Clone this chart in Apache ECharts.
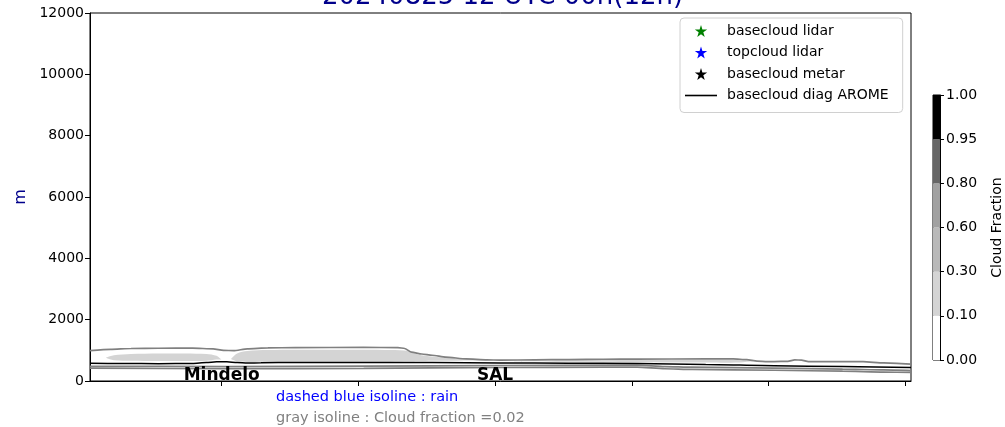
<!DOCTYPE html>
<html>
<head>
<meta charset="utf-8">
<script src="https://cdn.jsdelivr.net/npm/echarts@6/dist/echarts.min.js"></script>
<style>
    html, body { margin: 0; padding: 0; background: #fff; }
    #main { width: 1005px; height: 427px; }
</style>
</head>
<body>
<div id="main"></div>
<script>
    // x is the point index along the track, y is height in metres
    var yTicks = [0, 2000, 4000, 6000, 8000, 10000, 12000];
    var xTickPos = [19.25, 39.23, 59.2, 79.2, 99.2, 119.1];
    var stationNames = ['Mindelo', 'SAL'];
    var stationX = [19.25, 59.2];

    // cloud fraction = 0.02 isolines (top of the layer, and the thin layer underneath)
    var cfTopX = [0, 3, 6, 10, 15, 18, 19.5, 21, 23, 26, 30, 40, 45, 46, 47, 48.5, 50, 52, 55, 58, 60, 65, 70, 75, 80, 90, 94, 96, 97.5, 99, 101, 102, 103, 104, 105, 110, 113, 116, 120];
    var cfTop = [990, 1030, 1060, 1068, 1070, 1050, 1000, 990, 1050, 1080, 1090, 1095, 1090, 1060, 940, 880, 840, 780, 720, 690, 680, 690, 700, 710, 715, 720, 720, 700, 650, 630, 640, 640, 690, 680, 630, 630, 630, 590, 550];
    var cfLowX = [0, 20, 40, 60, 75, 80, 84, 88, 100, 110, 116, 120];
    var cfLowTop = [480, 470, 485, 505, 515, 515, 470, 450, 420, 390, 360, 340];
    var cfLowBase = [420, 400, 410, 440, 450, 450, 400, 380, 350, 320, 290, 280];

    // basecloud diag AROME
    var aromeX = [0, 5, 10, 15, 17, 18.5, 20, 21.5, 23, 25, 30, 40, 50, 60, 70, 80, 90, 100, 110, 120];
    var aromeBase = [577, 570, 565, 570, 600, 630, 630, 600, 585, 595, 605, 605, 600, 590, 580, 570, 540, 500, 470, 440];

    // cloud fraction 0.10 - 0.30 patches
    var patch1X = [2.3, 3.5, 6, 10, 14, 17, 18.5, 19.2];
    var patch1Top = [760, 840, 880, 895, 900, 880, 820, 700];
    var patch1Base = [760, 680, 660, 650, 650, 660, 700, 700];
    var patch2X = [20.6, 21.5, 23, 26, 30, 35, 40, 44, 46.5, 48, 50, 53, 56, 58.5];
    var patch2Top = [720, 900, 980, 1010, 1020, 1020, 1020, 1010, 980, 860, 800, 740, 700, 680];
    var patch2Base = [720, 640, 620, 625, 630, 630, 630, 630, 640, 650, 660, 660, 665, 680];
    var patch3X = [62, 70, 80, 90, 95, 97];
    var patch3Top = [660, 680, 690, 695, 690, 640];
    var patch3Base = [640, 625, 610, 600, 605, 640];

    // colour bar levels
    var levelLabels = ['0.00', '0.10', '0.30', '0.60', '0.80', '0.95', '1.00'];
    var levelColors = ['#ffffff', '#d4d4d4', '#b9b9b9', '#a1a1a1', '#666666', '#000000'];

    var FONT = 'DejaVu Sans';
    var STAR = 'path://M50,2 L61,37 L98,37 L68,59 L79,95 L50,73 L21,95 L32,59 L2,37 L39,37 Z';
    var BAR = 'path://M0,0 L100,0 L100,5 L0,5 Z';

    function pairs(xs, ys) {
        return xs.map(function (x, i) { return [x, ys[i]]; });
    }

    var patches = [
        {x: patch1X, top: patch1Top, base: patch1Base, color: levelColors[1]},
        {x: patch2X, top: patch2Top, base: patch2Base, color: levelColors[1]},
        {x: patch3X, top: patch3Top, base: patch3Base, color: levelColors[1]}
    ];

    var chart = echarts.init(document.getElementById('main'), null, {renderer: 'canvas'});

    var isoLine = {color: '#808080', width: 1.7};

    var series = [
        {
            type: 'custom',
            xAxisIndex: 0, yAxisIndex: 0,
            silent: true,
            data: patches.map(function (p) { return [p.x[0], p.top[0]]; }),
            renderItem: function (params, api) {
                var p = patches[params.dataIndex];
                var pts = [];
                for (var i = 0; i < p.x.length; i++) pts.push(api.coord([p.x[i], p.top[i]]));
                for (var j = p.x.length - 1; j >= 0; j--) pts.push(api.coord([p.x[j], p.base[j]]));
                return {type: 'polygon', shape: {points: pts, smooth: 0.3}, style: {fill: p.color}};
            },
            z: 1
        },
        {
            name: 'cf top', type: 'line', data: pairs(cfTopX, cfTop),
            symbol: 'none', smooth: 0.2, smoothMonotone: 'x', lineStyle: isoLine, z: 2
        },
        {
            name: 'cf low top', type: 'line', data: pairs(cfLowX, cfLowTop),
            symbol: 'none', smooth: 0.2, smoothMonotone: 'x', lineStyle: isoLine, z: 2
        },
        {
            name: 'cf low base', type: 'line', data: pairs(cfLowX, cfLowBase),
            symbol: 'none', smooth: 0.2, smoothMonotone: 'x', lineStyle: isoLine, z: 2
        },
        {
            name: 'basecloud diag AROME', type: 'line', data: pairs(aromeX, aromeBase),
            symbol: 'none', smooth: 0.2, smoothMonotone: 'x',
            lineStyle: {color: '#000', width: 1.5}, itemStyle: {color: '#000'}, z: 3
        },
        {name: 'basecloud lidar', type: 'scatter', data: [], symbol: STAR, itemStyle: {color: '#008000', opacity: 1}},
        {name: 'topcloud lidar', type: 'scatter', data: [], symbol: STAR, itemStyle: {color: '#0000ff', opacity: 1}},
        {name: 'basecloud metar', type: 'scatter', data: [], symbol: STAR, itemStyle: {color: '#000000', opacity: 1}},
        {
            type: 'scatter',
            data: stationX.map(function (x) { return [x, 0]; }),
            symbolSize: 0,
            silent: true,
            itemStyle: {opacity: 1},
            label: {
                show: true, position: 'top', distance: -3,
                formatter: function (p) { return stationNames[p.dataIndex]; },
                fontFamily: FONT, fontWeight: 'bold', fontSize: 17, color: '#000'
            },
            z: 5
        }
    ];

    // colour bar: one stacked bar segment per level band
    levelColors.forEach(function (c, i) {
        series.push({
            type: 'bar', xAxisIndex: 1, yAxisIndex: 1, stack: 'cb',
            data: [1], barWidth: '100%', silent: true,
            itemStyle: {color: c}
        });
    });

    var option = {
        animation: false,
        backgroundColor: '#fff',
        title: {
            text: '20240825 12 UTC 00h(12h)',
            left: 'center',
            top: -21,
            textStyle: {fontFamily: FONT, fontSize: 26, fontWeight: 'normal', color: '#00008b'}
        },
        legend: {
            orient: 'vertical',
            left: 680,
            top: 18,
            padding: [6, 14, 10, 5],
            itemWidth: 32,
            itemHeight: 12,
            itemGap: 7.5,
            borderColor: '#d0d0d0',
            borderWidth: 1,
            borderRadius: 4,
            backgroundColor: '#fff',
            textStyle: {fontFamily: FONT, fontSize: 14, color: '#000', padding: [0, 0, 0, 5]},
            data: [
                {name: 'basecloud lidar', icon: STAR},
                {name: 'topcloud lidar', icon: STAR},
                {name: 'basecloud metar', icon: STAR},
                {name: 'basecloud diag AROME', icon: BAR}
            ]
        },
        grid: [
            {left: 90, right: 94, top: 13, bottom: 46, show: true, borderColor: '#000', borderWidth: 1},
            {left: 933, top: 95, width: 11, height: 265, show: true, borderColor: '#000', borderWidth: 1}
        ],
        xAxis: [
            {
                type: 'value', gridIndex: 0, min: 0, max: 120,
                axisLine: {lineStyle: {color: '#000'}},
                axisTick: {show: true, length: 5, customValues: xTickPos, lineStyle: {color: '#000'}},
                axisLabel: {show: false},
                splitLine: {show: false}
            },
            {type: 'category', gridIndex: 1, data: ['cb'], show: false}
        ],
        yAxis: [
            {
                type: 'value', gridIndex: 0, min: yTicks[0], max: yTicks[yTicks.length - 1], interval: 2000,
                name: 'm', nameLocation: 'middle', nameGap: 60, nameRotate: 90,
                nameTextStyle: {fontFamily: FONT, fontSize: 16, color: '#00008b'},
                axisLine: {show: true, lineStyle: {color: '#000'}},
                axisTick: {show: true, length: 5, lineStyle: {color: '#000'}},
                axisLabel: {
                    fontFamily: FONT, fontSize: 14, color: '#000', margin: 6,
                    formatter: function (v) { return String(v); }
                },
                splitLine: {show: false}
            },
            {
                type: 'value', gridIndex: 1, min: 0, max: 6, interval: 1, position: 'right',
                name: 'Cloud Fraction', nameLocation: 'middle', nameGap: 50, nameRotate: 90,
                nameTextStyle: {fontFamily: FONT, fontSize: 14, color: '#000'},
                axisLine: {show: true, lineStyle: {color: '#000'}},
                axisTick: {show: true, length: 4, lineStyle: {color: '#000'}},
                axisLabel: {
                    fontFamily: FONT, fontSize: 14, color: '#000', margin: 6,
                    formatter: function (v) { return levelLabels[v]; }
                },
                splitLine: {show: false}
            }
        ],
        graphic: [
            {
                type: 'text', left: 276, top: 390,
                style: {text: 'dashed blue isoline : rain', fill: '#0000ff', font: '14.5px "DejaVu Sans"'}
            },
            {
                type: 'text', left: 276, top: 411,
                style: {text: 'gray isoline : Cloud fraction =0.02', fill: '#808080', font: '14.5px "DejaVu Sans"'}
            }
        ],
        series: series
    };

    chart.setOption(option);
</script>
</body>
</html>
